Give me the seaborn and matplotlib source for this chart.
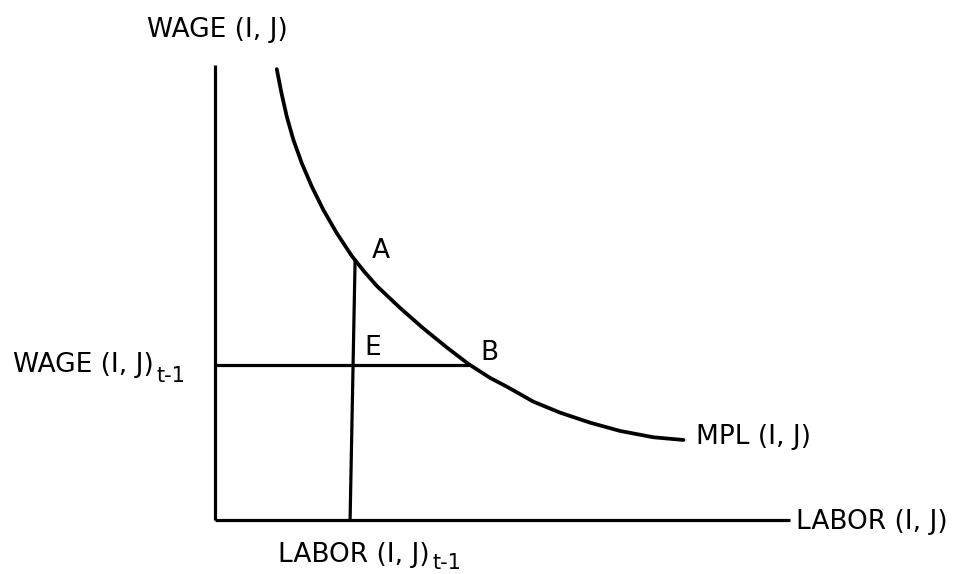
import numpy as np
import pandas as pd
import seaborn as sns
import matplotlib.pyplot as plt

# MPL curve (labor units, wage units)
mpl_labor = [10.73, 11.55, 12.47, 13.62, 15.08, 16.82, 18.83, 21.17, 23.77, 25.91, 28.12, 32.17,
             36.23, 40.30, 44.05, 47.83, 50.73, 55.36, 60.00, 65.22, 70.43, 76.23, 81.45]
mpl_wage = [78.38, 74.21, 70.14, 66.09, 62.03, 57.97, 53.91, 49.86, 45.91, 43.22, 40.70, 36.87,
            33.30, 30.00, 27.13, 24.70, 23.18, 20.57, 18.66, 16.92, 15.48, 14.38, 13.91]

# previous period values
labor_prev = 23.48
wage_prev = 27.0
point_a = (24.35, 45.2)
point_b = (44.05, 27.0)

# axis extents
labor_max = 100.0
wage_max = 79.1

sns.set_style('white')
plt.rcParams['font.family'] = ['DejaVu Sans']
plt.rcParams['text.color'] = 'black'

fig = plt.figure(figsize=(9.77, 5.74), dpi=100)
ax = fig.add_axes([0, 0, 1, 1])

df = pd.DataFrame({'labor': mpl_labor, 'wage': mpl_wage})
sns.lineplot(data=df, x='labor', y='wage', sort=False, color='black', linewidth=2.7, ax=ax)

# axes drawn as lines
ax.plot([0, 0], [0, wage_max], color='black', linewidth=2.3, solid_capstyle='butt')
ax.plot([0, labor_max], [0, 0], color='black', linewidth=2.3, solid_capstyle='butt')

# wage(t-1) line to B, labor(t-1) line up to A
ax.plot([0, point_b[0]], [wage_prev, point_b[1]], color='black', linewidth=2.3)
ax.plot([labor_prev, point_a[0]], [0, point_a[1]], color='black', linewidth=2.3)

fs = 19
fs_sub = 15
ax.text(-11.8, 84.0, 'WAGE (I, J)', fontsize=fs, ha='left', va='baseline')

t1 = ax.text(-35.1, 25.7, 'WAGE (I, J)', fontsize=fs, ha='left', va='baseline')
ax.annotate('t-1', xy=(1, 24.0), xycoords=(t1, 'data'), xytext=(2, 0), textcoords='offset points',
            fontsize=fs_sub, ha='left', va='baseline')

t2 = ax.text(11.0, -7.3, 'LABOR (I, J)', fontsize=fs, ha='left', va='baseline')
ax.annotate('t-1', xy=(1, -8.5), xycoords=(t2, 'data'), xytext=(2, 0), textcoords='offset points',
            fontsize=fs_sub, ha='left', va='baseline')

ax.text(101.0, -1.6, 'LABOR (I, J)', fontsize=fs, ha='left', va='baseline')
ax.text(83.6, 13.2, 'MPL (I, J)', fontsize=fs, ha='left', va='baseline')
ax.text(28.9, 45.6, 'A', fontsize=fs, ha='center', va='baseline')
ax.text(27.4, 28.7, 'E', fontsize=fs, ha='center', va='baseline')
ax.text(47.7, 27.8, 'B', fontsize=fs, ha='center', va='baseline')

ax.set_xlim(-37.4, 132.5)
ax.set_ylim(-9.39, 90.4)
ax.set_axis_off()

fig.savefig('out.png', dpi=100)
